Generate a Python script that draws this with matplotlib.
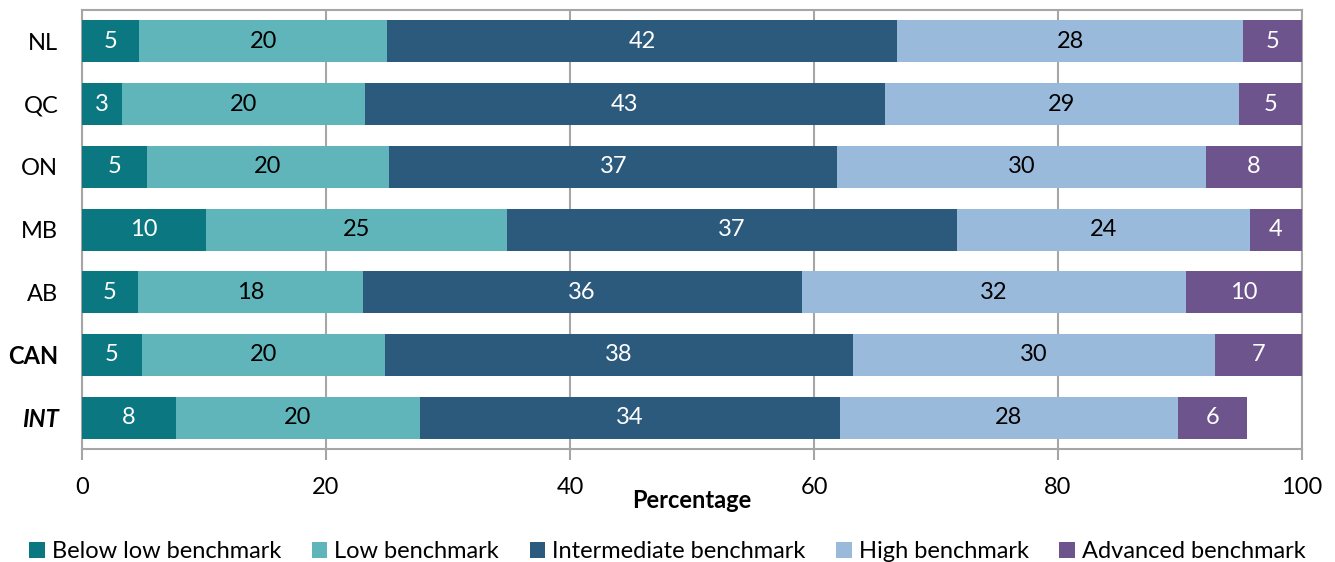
import numpy as np
from matplotlib import pyplot as plt
from matplotlib.ticker import MultipleLocator

plt.rcParams['font.family'] = ['Lato', 'DejaVu Sans']

regions = ['NL', 'QC', 'ON', 'MB', 'AB', 'CAN', 'INT']
levels = ['Below low benchmark', 'Low benchmark', 'Intermediate benchmark',
          'High benchmark', 'Advanced benchmark']

below_low = [4.7, 3.3, 5.3, 10.2, 4.6, 4.9, 7.7]
low = [20.3, 19.9, 19.9, 24.6, 18.4, 19.9, 20.0]
intermediate = [41.8, 42.6, 36.7, 36.9, 36.0, 38.4, 34.4]
high = [28.4, 29.0, 30.2, 24.0, 31.5, 29.7, 27.7]
advanced = [4.8, 5.2, 7.9, 4.3, 9.5, 7.1, 5.7]

colors = ['#0b7781', '#5fb5ba', '#2c5a7c', '#9abadb', '#6e548c']
text_colors = ['white', 'black', 'white', 'black', 'white']


def show_stacked(series):
    fig = plt.figure(figsize=(13.35, 5.62), dpi=100)
    ax = fig.add_axes([0.0614, 0.201, 0.9139, 0.781])
    y = np.arange(len(regions))
    left = np.zeros(len(regions))
    for vals, col, tcol, name in zip(series, colors, text_colors, levels):
        vals = np.array(vals)
        bars = ax.barh(y, vals, left=left, height=0.67, color=col, label=name, zorder=3)
        ax.bar_label(bars, labels=[f'{v:.0f}' for v in vals], label_type='center',
                     color=tcol, fontsize=17)
        left += vals

    ax.set_xlim(0, 100)
    ax.set_ylim(len(regions) - 0.5, -0.5)
    ax.set_yticks(y)
    ax.set_yticklabels(regions, fontsize=17)
    ax.get_yticklabels()[5].set_fontweight('bold')
    ax.get_yticklabels()[6].set_fontweight('bold')
    ax.get_yticklabels()[6].set_fontstyle('italic')
    ax.tick_params(axis='y', length=0, pad=17)
    ax.xaxis.set_major_locator(MultipleLocator(20))
    ax.tick_params(axis='x', labelsize=17, length=8, width=1.5, color='#a6a6a6', pad=12)
    ax.grid(axis='x', color='#a6a6a6', linewidth=1.5, zorder=0)
    for s in ax.spines.values():
        s.set_color('#a6a6a6')
        s.set_linewidth(1.5)
    ax.set_xlabel('Percentage', fontsize=17, fontweight='bold', labelpad=-6)

    fig.legend(loc='center', bbox_to_anchor=(0.5, 0.018), ncol=5, frameon=False,
               fontsize=17, handlelength=0.65, handleheight=0.65, handletextpad=0.3,
               columnspacing=1.3, borderaxespad=0)
    fig.savefig('out.png', dpi=100)


if __name__ == '__main__':
    show_stacked([below_low, low, intermediate, high, advanced])
